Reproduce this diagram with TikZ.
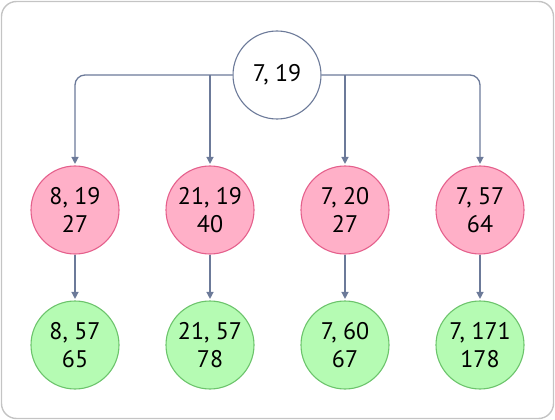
\documentclass[tikz,border=0pt]{standalone}
\usepackage{fontspec}
\setmainfont{PT Sans}
\usetikzlibrary{arrows.meta}
\definecolor{conn}{HTML}{6C7A99}
\definecolor{pinkfill}{HTML}{FFB0C8}
\definecolor{pinkdraw}{HTML}{E5608C}
\definecolor{greenfill}{HTML}{B5FBB3}
\definecolor{greendraw}{HTML}{6CC46C}
\definecolor{frame}{HTML}{C4C4C4}
\begin{document}
\begin{tikzpicture}[x=1pt,y=-1pt,
  nodebase/.style={circle,minimum size=88pt,inner sep=0pt,line width=1.1pt,align=center,
    font=\fontsize{24}{28}\selectfont},
  rootnode/.style={nodebase,draw=conn,fill=white},
  pinknode/.style={nodebase,draw=pinkdraw,fill=pinkfill},
  greennode/.style={nodebase,draw=greendraw,fill=greenfill},
  link/.style={draw=conn,line width=1.3pt,rounded corners=10pt,
    -{Triangle[length=7pt,width=7pt]},shorten >=1.5pt}]
\useasboundingbox (0,0) rectangle (555,420);
\draw[frame,line width=1.4pt,rounded corners=15pt] (1.5,1.5) rectangle (553.5,418.5);
\node[rootnode] (r) at (277,75) {7, 19};
\node[pinknode] (p1) at (75,210) {8, 19\\27};
\node[pinknode] (p2) at (210,210) {21, 19\\40};
\node[pinknode] (p3) at (345,210) {7, 20\\27};
\node[pinknode] (p4) at (480,210) {7, 57\\64};
\node[greennode] (g1) at (75,345) {8, 57\\65};
\node[greennode] (g2) at (210,345) {21, 57\\78};
\node[greennode] (g3) at (345,345) {7, 60\\67};
\node[greennode] (g4) at (480,345) {7, 171\\178};
\draw[link] (r.west) -| (p1.north);
\draw[link] (p2.north |- r.west) -- (p2.north);
\draw[link] (r.east) -| (p4.north);
\draw[link] (p3.north |- r.east) -- (p3.north);
\foreach \i in {1,...,4}{\draw[link] (p\i.south) -- (g\i.north);}
\end{tikzpicture}
\end{document}
